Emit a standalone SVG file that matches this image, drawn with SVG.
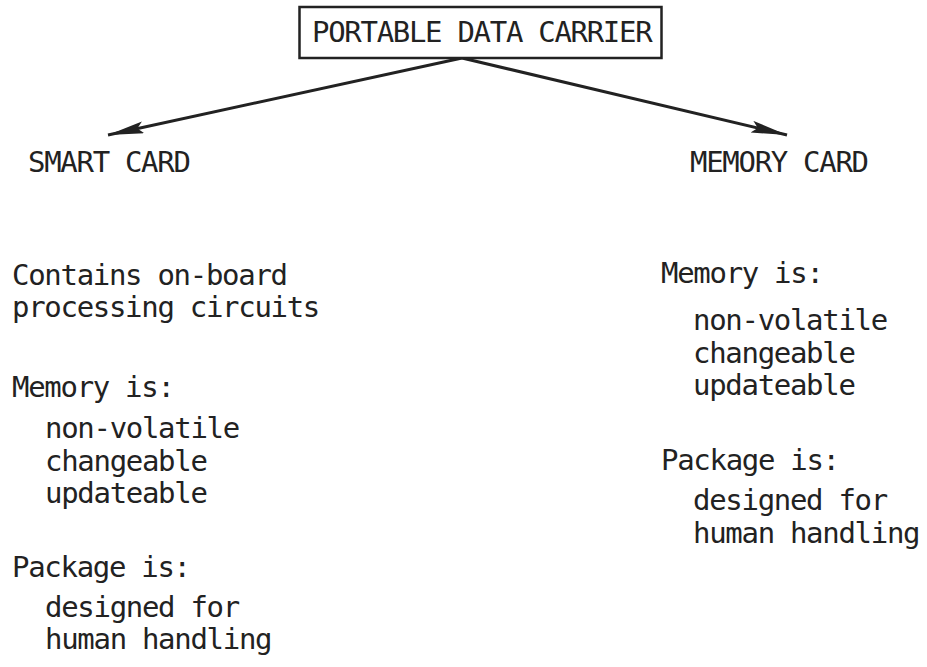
<svg xmlns="http://www.w3.org/2000/svg" width="927" height="667" viewBox="0 0 927 667">
<style>
text{font-family:"DejaVu Sans Mono","Liberation Mono",monospace;font-size:29px;letter-spacing:-1.3px;fill:#222}
.box{fill:#fff;stroke:#222;stroke-width:2.5}
.conn{stroke:#222;stroke-width:3;fill:none;marker-end:url(#ah)}
</style>
<defs>
<marker id="ah" markerUnits="userSpaceOnUse" markerWidth="40" markerHeight="14" refX="36" refY="6" orient="auto">
<path d="M0,0 L36,6 L0,12 L6,6 z" fill="#222"/>
</marker>
</defs>
<rect width="927" height="667" fill="#fff"/>
<g id="connectors">
<line class="conn" x1="462" y1="58" x2="108" y2="135"/>
<line class="conn" x1="462" y1="58" x2="787" y2="135"/>
</g>
<g id="root">
<rect class="box" x="299.5" y="7" width="362" height="51"/>
<text x="312" y="42">PORTABLE DATA CARRIER</text>
</g>
<g id="smart-card">
<text x="28" y="172">SMART CARD</text>
<text x="12" y="285">Contains on-board</text>
<text x="12" y="317">processing circuits</text>
<text x="12" y="397">Memory is:</text>
<text x="45" y="438">non-volatile</text>
<text x="45" y="471">changeable</text>
<text x="45" y="503">updateable</text>
<text x="12" y="577">Package is:</text>
<text x="45" y="617">designed for</text>
<text x="45" y="649">human handling</text>
</g>
<g id="memory-card">
<text x="690" y="172">MEMORY CARD</text>
<text x="661" y="283">Memory is:</text>
<text x="693" y="330">non-volatile</text>
<text x="693" y="363">changeable</text>
<text x="693" y="395">updateable</text>
<text x="661" y="470">Package is:</text>
<text x="693" y="510">designed for</text>
<text x="693" y="543">human handling</text>
</g>
</svg>
